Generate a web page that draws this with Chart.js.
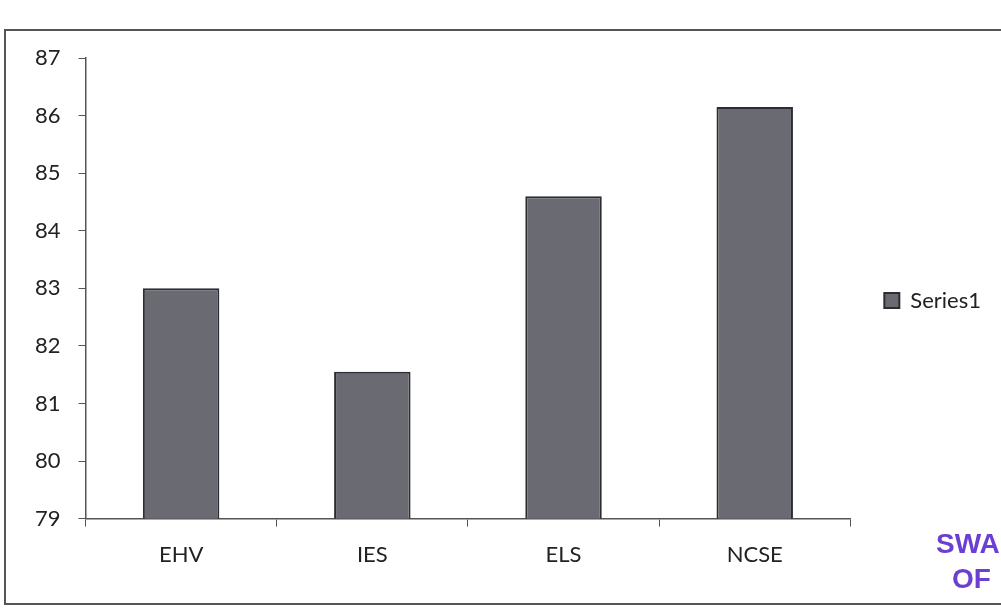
<!DOCTYPE html>
<html>
<head>
<meta charset="utf-8">
<script src="https://cdn.jsdelivr.net/npm/chart.js@4/dist/chart.umd.min.js"></script>
<style>
  html, body { margin: 0; padding: 0; background: #fff; }
  #wrap { position: relative; width: 1001px; height: 611px; overflow: hidden; }
  #frame { position: absolute; left: 4px; top: 29px; width: 1010px; height: 576px; border: 2px solid #555; box-sizing: border-box; }
  #chart { position: absolute; left: 0; top: 0; }
  .stamp { position: absolute; color: #6a3fd2; font: bold 28px "Liberation Sans", Arial, sans-serif; }
</style>
</head>
<body>
<div id="wrap">
  <div id="frame"></div>
  <canvas id="chart" width="1001" height="611"></canvas>
  <div class="stamp" style="left:936px; top:528px;">SWA</div>
  <div class="stamp" style="left:952px; top:563px;">OF</div>
</div>
<script>
const categories = ['EHV', 'IES', 'ELS', 'NCSE'];
const series1 = [83.0, 81.55, 84.6, 86.15];
const yMin = 79, yMax = 87;

const font = { family: 'Lato, "Open Sans", sans-serif', size: 22 };

new Chart(document.getElementById('chart').getContext('2d'), {
    type: 'bar',
    data: {
        labels: categories,
        datasets: [{
            label: 'Series1',
            data: series1,
            backgroundColor: '#6a6a72',
            borderColor: '#2c2c32',
            borderWidth: 2,
            barPercentage: 0.4,
            categoryPercentage: 1.0
        }]
    },
    options: {
        responsive: false,
        animation: false,
        layout: { padding: { left: 17, top: 58, right: 10, bottom: 28 } },
        plugins: {
            tooltip: { enabled: false },
            legend: {
                position: 'right',
                fullSize: false,
                // empty title only nudges the single entry down a little
                title: { display: true, text: '', padding: 5 },
                labels: { color: '#222', font: font, boxWidth: 15, boxHeight: 15, padding: 34 }
            }
        },
        scales: {
            x: {
                grid: { offset: true, drawOnChartArea: false, color: '#555', tickLength: 8 },
                border: { color: '#555', width: 1.5 },
                ticks: { color: '#222', font: font, padding: 15 }
            },
            y: {
                min: yMin, max: yMax,
                grid: { drawOnChartArea: false, color: '#555', tickLength: 7 },
                border: { color: '#555', width: 1.5 },
                ticks: { stepSize: 1, color: '#222', font: font, padding: 18 }
            }
        }
    }
});
</script>
</body>
</html>
